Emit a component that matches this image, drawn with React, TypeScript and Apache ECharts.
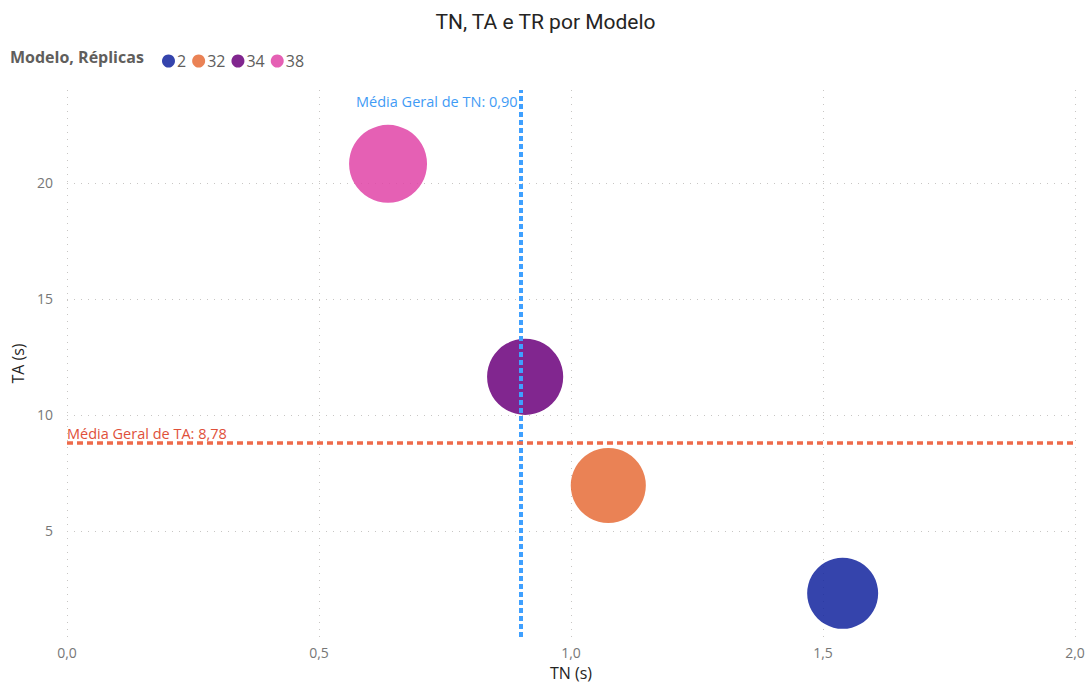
import { useEffect, useRef } from "react";
import * as echarts from "echarts";

const models = ["2", "32", "34", "38"];
const tn = [1.539, 1.074, 0.909, 0.637];
const ta = [2.31, 6.96, 11.64, 20.82];
const tr = [16.0, 17.9, 18.4, 19.3];
const colors = ["#12239E", "#E66C37", "#6B007B", "#E044A7"];
const yTicks = [5, 10, 15, 20];
const avgTN = 0.9;
const avgTA = 8.78;
const xMin = 0;
const xMax = 2;
const xStep = 0.5;
const yMin = 0.43;
const yMax = 24.0;

const FONT = "'Open Sans', 'Noto Sans', sans-serif";
const fmt = (v: number, d: number) => v.toFixed(d).replace(".", ",");

export default function App() {
  const ref = useRef<HTMLDivElement>(null);
  useEffect(() => {
    document.body.style.margin = "0";
    const chart = echarts.init(ref.current!, null, { renderer: "svg" });
    const dotted = { type: [1, 6] as any, color: "#C8C6C4", width: 1 };
    const bubbles = models.map((m, i) => ({
      name: m,
      type: "scatter",
      z: 3,
      data: [[tn[i], ta[i], tr[i]]],
      symbolSize: (v: number[]) => 17.75 * Math.sqrt(v[2]),
      itemStyle: { color: colors[i], opacity: 0.85 },
    }));
    chart.setOption({
      animation: false,
      textStyle: { fontFamily: FONT },
      title: {
        text: "TN, TA e TR por Modelo",
        left: "center",
        top: 6,
        textStyle: { fontFamily: "Roboto, sans-serif", fontSize: 21, fontWeight: "normal", color: "#252423" },
      },
      legend: {
        data: models,
        left: 157,
        top: 48,
        icon: "circle",
        itemWidth: 13,
        itemHeight: 13,
        itemGap: 6,
        textStyle: { fontFamily: FONT, fontSize: 16, color: "#605E5C", padding: [0, 0, 0, -3] },
      },
      grid: { left: 67, right: 16, top: 90, bottom: 47, outerBoundsMode: "none" },
      xAxis: {
        type: "value",
        min: xMin,
        max: xMax,
        interval: xStep,
        name: "TN (s)",
        nameLocation: "middle",
        nameGap: 28,
        nameTextStyle: { fontFamily: FONT, fontSize: 16, color: "#252423" },
        axisLine: { show: false },
        axisTick: { show: false },
        axisLabel: { fontSize: 14, color: "#777777", margin: 8, formatter: (v: number) => fmt(v, 1) },
        splitLine: { show: true, lineStyle: dotted },
      },
      yAxis: {
        type: "value",
        min: yMin,
        max: yMax,
        name: "TA (s)",
        nameLocation: "middle",
        nameGap: 41,
        nameTextStyle: { fontFamily: FONT, fontSize: 16, color: "#252423" },
        axisLine: { show: false },
        axisTick: { show: false, customValues: yTicks },
        axisLabel: { fontSize: 14, color: "#777777", margin: 14, customValues: yTicks },
        splitLine: { show: true, lineStyle: dotted },
      },
      series: [
        {
          type: "scatter",
          z: 1,
          data: [],
          silent: true,
          markLine: {
            silent: true,
            symbol: "none",
            animation: false,
            label: { show: false },
            data: [
              { xAxis: avgTN, lineStyle: { color: "#3FA0FF", width: 4, type: [5, 3] } },
              { yAxis: avgTA, lineStyle: { color: "#EE6A4A", width: 3.5, type: [6, 4] } },
            ],
          },
        },
        ...bubbles,
      ],
    });
    const pTN = chart.convertToPixel({ gridIndex: 0 }, [avgTN, yMax]) as number[];
    const pTA = chart.convertToPixel({ gridIndex: 0 }, [xMin, avgTA]) as number[];
    chart.setOption({
      graphic: [
        {
          type: "text",
          left: 10,
          top: 49,
          style: { text: "Modelo, Réplicas", fontFamily: FONT, fontSize: 16, fontWeight: "bold", fill: "#605E5C" },
        },
        {
          type: "text",
          x: pTN[0] - 3,
          y: pTN[1] + 11,
          style: {
            text: "Média Geral de TN: " + fmt(avgTN, 2),
            fontFamily: FONT,
            fontSize: 14.5,
            fill: "#3F9BF5",
            align: "right",
            verticalAlign: "middle",
          },
        },
        {
          type: "text",
          x: pTA[0],
          y: pTA[1] - 10,
          style: {
            text: "Média Geral de TA: " + fmt(avgTA, 2),
            fontFamily: FONT,
            fontSize: 14.5,
            fill: "#E0503A",
            align: "left",
            verticalAlign: "middle",
          },
        },
      ],
    });
    return () => chart.dispose();
  }, []);
  return <div ref={ref} style={{ width: 1091, height: 684 }} />;
}
